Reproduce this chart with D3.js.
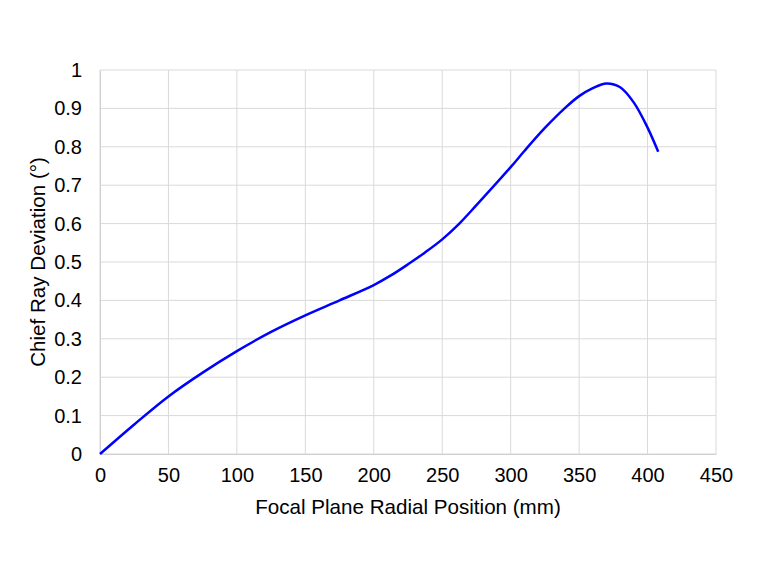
<!DOCTYPE html>
<html><head><meta charset="utf-8">
<script src="https://cdn.jsdelivr.net/npm/d3@7"></script>
<style>body{margin:0;background:#fff}svg{display:block}text{font-family:"Liberation Sans",Arial,sans-serif;fill:#000}</style>
</head><body><svg id="c" width="757" height="585"></svg>
<script>
const radialPos = [0, 25, 50, 75, 100, 125, 150, 175, 200, 212.5, 225, 237.5, 250, 262.5, 275, 300, 310, 325, 340, 350, 360, 370, 380, 390, 400, 407.8];
const deviation = [0, 0.077, 0.150, 0.212, 0.268, 0.318, 0.361, 0.400, 0.440, 0.465, 0.494, 0.525, 0.559, 0.600, 0.648, 0.747, 0.789, 0.849, 0.902, 0.932, 0.953, 0.965, 0.955, 0.915, 0.850, 0.787];
const xTicks = [0, 50, 100, 150, 200, 250, 300, 350, 400, 450];
const yTicks = [0, 0.1, 0.2, 0.3, 0.4, 0.5, 0.6, 0.7, 0.8, 0.9, 1];
const xTitle = "Focal Plane Radial Position (mm)";
const yTitle = "Chief Ray Deviation (°)";

const svg = d3.select("#c");
const L = 100, R = 716, T = 70, B = 454;
const x = d3.scaleLinear().domain([0, 450]).range([L, R]);
const y = d3.scaleLinear().domain([0, 1]).range([B, T]);

const g = svg.append("g");
g.selectAll(".vg").data(xTicks).enter().append("line")
  .attr("x1", d => x(d)).attr("x2", d => x(d)).attr("y1", T).attr("y2", B)
  .attr("stroke", "#d9d9d9").attr("stroke-width", 1);
g.selectAll(".hg").data(yTicks).enter().append("line")
  .attr("y1", d => y(d)).attr("y2", d => y(d)).attr("x1", L).attr("x2", R)
  .attr("stroke", "#d9d9d9").attr("stroke-width", 1);

const xAxis = d3.axisBottom(x).tickValues(xTicks).tickSize(0).tickPadding(14).tickFormat(d3.format("d"));
const xa = svg.append("g").attr("transform", `translate(0,${B})`).call(xAxis);
const yAxis = d3.axisLeft(y).tickValues(yTicks).tickSize(0).tickPadding(18).tickFormat(d => d3.format("")(+d.toFixed(1)));
const ya = svg.append("g").attr("transform", `translate(${L},0)`).call(yAxis);
[xa, ya].forEach(a => {
  a.select(".domain").attr("stroke", "#d0d0d0");
  a.selectAll("text").style("font-size", "20px").style("font-family", '"Liberation Sans",Arial,sans-serif').attr("fill", "#000");
});

const line = d3.line().x((d, i) => x(radialPos[i])).y(d => y(d)).curve(d3.curveCatmullRom.alpha(0.5));
svg.append("path").datum(deviation).attr("d", line)
  .attr("fill", "none").attr("stroke", "#0000ff").attr("stroke-width", 2.5);

svg.append("text").attr("x", (L + R) / 2).attr("y", 514).attr("text-anchor", "middle")
  .style("font-size", "20.6px").text(xTitle);
svg.append("text").attr("transform", `translate(45,${(T + B) / 2}) rotate(-90)`).attr("text-anchor", "middle")
  .style("font-size", "20.6px").text(yTitle);
</script></body></html>
